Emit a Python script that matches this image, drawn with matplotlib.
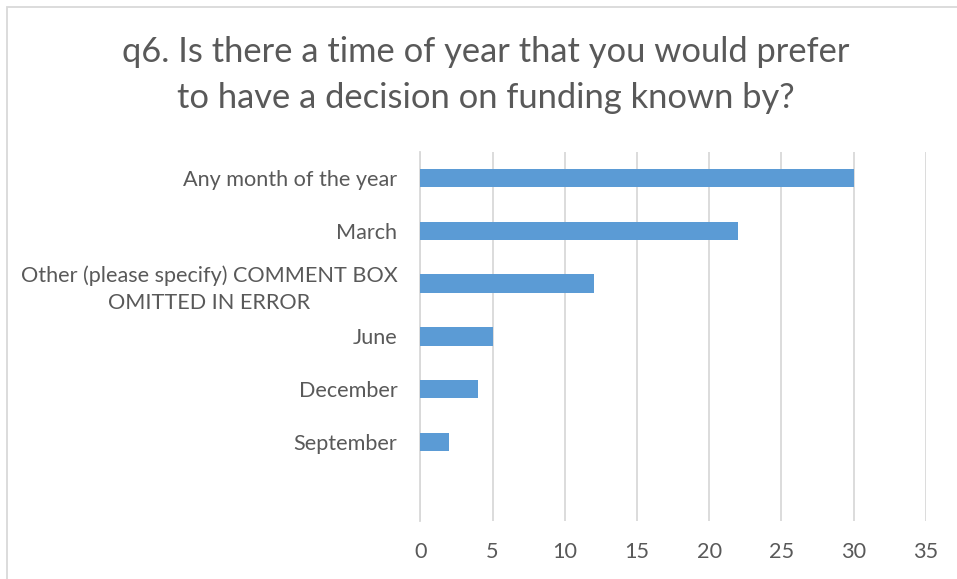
import matplotlib
matplotlib.use("Agg")
import matplotlib.pyplot as plt
from matplotlib.patches import Rectangle

categories = [
    "Any month of the year",
    "March",
    "Other (please specify) COMMENT BOX\nOMITTED IN ERROR",
    "June",
    "December",
    "September",
]
responses = [30, 22, 12, 5, 4, 2]
x_ticks = [0, 5, 10, 15, 20, 25, 30, 35]

title = "q6. Is there a time of year that you would prefer\nto have a decision on funding known by?"

BAR_COLOR = "#5B9BD5"
GRID_COLOR = "#D9D9D9"
TEXT_COLOR = "#595959"

plt.rcParams["font.family"] = ["Lato", "DejaVu Sans"]

fig = plt.figure(figsize=(9.57, 5.79), dpi=100)
ax = fig.add_axes([0.4392, 0.1002, 0.9673 - 0.4392, 0.738 - 0.1002])

positions = list(range(len(categories)))
ax.barh(positions, responses, height=0.35, color=BAR_COLOR, zorder=3)

# one empty slot is left below the last category
ax.set_ylim(len(categories) + 0.5, -0.5)
ax.set_xlim(x_ticks[0], x_ticks[-1])
ax.set_xticks(x_ticks)
ax.set_xticklabels([str(t) for t in x_ticks])
ax.set_yticks(positions)
ax.set_yticklabels(categories, multialignment="center", linespacing=1.45)

ax.grid(axis="x", color=GRID_COLOR, linewidth=1.3, zorder=0)
ax.grid(axis="y", visible=False)
for side in ["top", "right", "bottom"]:
    ax.spines[side].set_visible(False)
ax.spines["left"].set_color(GRID_COLOR)
ax.spines["left"].set_linewidth(1.3)

ax.tick_params(axis="both", length=0, colors=TEXT_COLOR, labelsize=15.6)
ax.tick_params(axis="y", pad=16.5)
ax.tick_params(axis="x", pad=15)

fig.text(0.508, 0.870, title, ha="center", va="center", fontsize=24.8,
         color=TEXT_COLOR, linespacing=1.55)

# chart frame
fig.patches.append(Rectangle((7 / 957, -0.1), 1.2, 1 - 7 / 579 + 0.1,
                             transform=fig.transFigure, fill=False,
                             edgecolor=GRID_COLOR, linewidth=1.3))

fig.savefig("out.png", dpi=100, facecolor="white")
